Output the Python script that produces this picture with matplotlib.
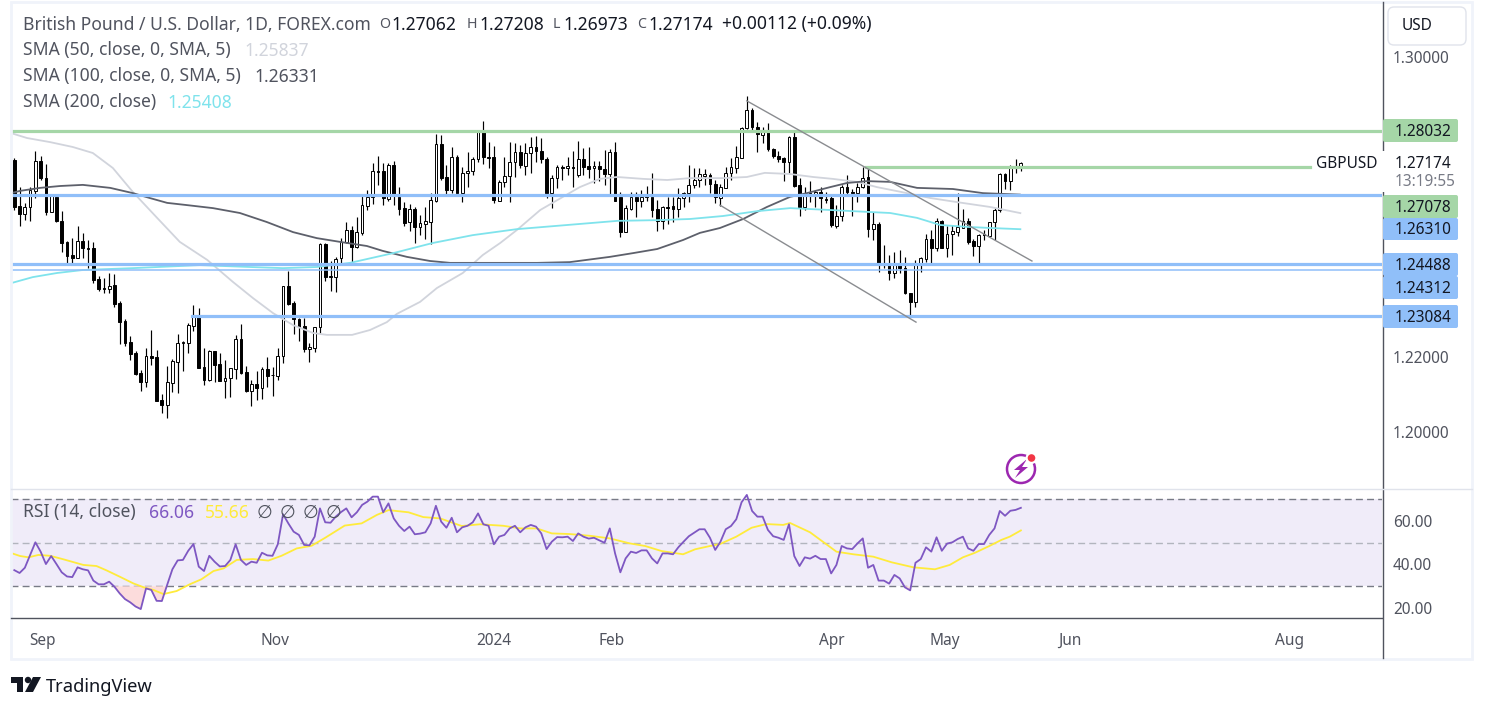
import matplotlib
matplotlib.use("Agg")
import matplotlib.pyplot as plt
import numpy as np
from matplotlib.patches import Circle, FancyBboxPatch, Polygon, Rectangle, Arc

plt.rcParams['font.family'] = ['Noto Sans', 'DejaVu Sans']

W, H = 1487, 712

# daily GBP/USD candles
opens = [
    1.2725, 1.2603, 1.2581, 1.2600, 1.2643, 1.2723, 1.2677, 1.2587, 1.2627, 1.2563,
    1.2507, 1.2472, 1.2464, 1.2509, 1.2491, 1.2491, 1.2408, 1.2384, 1.2381, 1.2392,
    1.2344, 1.2296, 1.2240, 1.2211, 1.2157, 1.2133, 1.2203, 1.2200, 1.2085, 1.2072,
    1.2131, 1.2187, 1.2237, 1.2237, 1.2283, 1.2307, 1.2173, 1.2139, 1.2216, 1.2181,
    1.2136, 1.2144, 1.2168, 1.2248, 1.2160, 1.2109, 1.2128, 1.2117, 1.2168, 1.2152,
    1.2149, 1.2203, 1.2389, 1.2344, 1.2301, 1.2283, 1.2221, 1.2224, 1.2280, 1.2501,
    1.2413, 1.2413, 1.2464, 1.2507, 1.2539, 1.2493, 1.2531, 1.2603, 1.2627, 1.2696,
    1.2696, 1.2621, 1.2712, 1.2627, 1.2597, 1.2560, 1.2595, 1.2547, 1.2555, 1.2560,
    1.2616, 1.2768, 1.2680, 1.2645, 1.2733, 1.2637, 1.2691, 1.2696, 1.2728, 1.2800,
    1.2733, 1.2733, 1.2616, 1.2667, 1.2683, 1.2720, 1.2747, 1.2709, 1.2744, 1.2760,
    1.2749, 1.2728, 1.2637, 1.2677, 1.2707, 1.2704, 1.2707, 1.2685, 1.2728, 1.2709,
    1.2704, 1.2709, 1.2701, 1.2688, 1.2747, 1.2627, 1.2533, 1.2595, 1.2627, 1.2616,
    1.2629, 1.2627, 1.2595, 1.2563, 1.2600, 1.2603, 1.2595, 1.2624, 1.2637, 1.2659,
    1.2672, 1.2683, 1.2685, 1.2661, 1.2624, 1.2651, 1.2691, 1.2704, 1.2731, 1.2811,
    1.2859, 1.2813, 1.2792, 1.2800, 1.2755, 1.2736, 1.2731, 1.2720, 1.2787, 1.2659,
    1.2600, 1.2637, 1.2632, 1.2640, 1.2621, 1.2624, 1.2549, 1.2576, 1.2653, 1.2640,
    1.2637, 1.2653, 1.2680, 1.2541, 1.2555, 1.2448, 1.2445, 1.2424, 1.2451, 1.2437,
    1.2371, 1.2347, 1.2445, 1.2461, 1.2515, 1.2491, 1.2563, 1.2491, 1.2528, 1.2533,
    1.2544, 1.2563, 1.2509, 1.2496, 1.2528, 1.2523, 1.2560, 1.2592, 1.2688, 1.2669,
    1.2707, 1.27062,
]
highs = [
    1.2731, 1.2653, 1.2611, 1.2653, 1.2749, 1.2736, 1.2715, 1.2632, 1.2632, 1.2589,
    1.2509, 1.2517, 1.2549, 1.2531, 1.2512, 1.2507, 1.2416, 1.2411, 1.2424, 1.2421,
    1.2349, 1.2301, 1.2256, 1.2216, 1.2165, 1.2224, 1.2272, 1.2219, 1.2101, 1.2176,
    1.2195, 1.2261, 1.2243, 1.2291, 1.2339, 1.2331, 1.2224, 1.2219, 1.2216, 1.2211,
    1.2192, 1.2171, 1.2259, 1.2288, 1.2176, 1.2139, 1.2163, 1.2173, 1.2200, 1.2173,
    1.2224, 1.2389, 1.2429, 1.2349, 1.2304, 1.2304, 1.2237, 1.2280, 1.2504, 1.2504,
    1.2456, 1.2467, 1.2517, 1.2560, 1.2549, 1.2573, 1.2632, 1.2645, 1.2717, 1.2736,
    1.2717, 1.2717, 1.2723, 1.2653, 1.2613, 1.2608, 1.2600, 1.2579, 1.2600, 1.2637,
    1.2795, 1.2792, 1.2712, 1.2760, 1.2739, 1.2707, 1.2747, 1.2733, 1.2800, 1.2829,
    1.2773, 1.2763, 1.2672, 1.2733, 1.2773, 1.2771, 1.2765, 1.2771, 1.2787, 1.2789,
    1.2784, 1.2733, 1.2685, 1.2712, 1.2712, 1.2733, 1.2749, 1.2776, 1.2757, 1.2760,
    1.2723, 1.2723, 1.2752, 1.2755, 1.2773, 1.2640, 1.2605, 1.2640, 1.2640, 1.2645,
    1.2656, 1.2691, 1.2619, 1.2603, 1.2627, 1.2627, 1.2651, 1.2640, 1.2712, 1.2704,
    1.2704, 1.2701, 1.2691, 1.2672, 1.2661, 1.2707, 1.2731, 1.2763, 1.2813, 1.2896,
    1.2864, 1.2827, 1.2813, 1.2824, 1.2757, 1.2749, 1.2733, 1.2789, 1.2805, 1.2677,
    1.2653, 1.2669, 1.2645, 1.2653, 1.2640, 1.2632, 1.2605, 1.2659, 1.2685, 1.2648,
    1.2664, 1.2707, 1.2704, 1.2587, 1.2560, 1.2499, 1.2472, 1.2480, 1.2485, 1.2467,
    1.2371, 1.2459, 1.2467, 1.2528, 1.2539, 1.2571, 1.2565, 1.2549, 1.2552, 1.2637,
    1.2595, 1.2571, 1.2515, 1.2528, 1.2539, 1.2560, 1.2597, 1.2691, 1.2691, 1.2712,
    1.2728, 1.27208,
]
lows = [
    1.2592, 1.2549, 1.2565, 1.2563, 1.2624, 1.2672, 1.2579, 1.2587, 1.2560, 1.2480,
    1.2451, 1.2451, 1.2464, 1.2464, 1.2437, 1.2397, 1.2376, 1.2371, 1.2371, 1.2333,
    1.2235, 1.2229, 1.2192, 1.2152, 1.2109, 1.2120, 1.2179, 1.2083, 1.2051, 1.2037,
    1.2107, 1.2104, 1.2163, 1.2211, 1.2269, 1.2171, 1.2125, 1.2136, 1.2133, 1.2136,
    1.2091, 1.2093, 1.2141, 1.2155, 1.2107, 1.2069, 1.2085, 1.2088, 1.2120, 1.2096,
    1.2139, 1.2184, 1.2339, 1.2261, 1.2243, 1.2213, 1.2187, 1.2213, 1.2264, 1.2403,
    1.2376, 1.2373, 1.2451, 1.2504, 1.2451, 1.2491, 1.2525, 1.2592, 1.2608, 1.2659,
    1.2605, 1.2616, 1.2605, 1.2579, 1.2549, 1.2536, 1.2504, 1.2525, 1.2515, 1.2501,
    1.2613, 1.2672, 1.2635, 1.2637, 1.2635, 1.2613, 1.2653, 1.2685, 1.2720, 1.2715,
    1.2704, 1.2611, 1.2616, 1.2653, 1.2613, 1.2680, 1.2704, 1.2685, 1.2691, 1.2720,
    1.2717, 1.2624, 1.2597, 1.2651, 1.2672, 1.2685, 1.2653, 1.2680, 1.2685, 1.2677,
    1.2664, 1.2669, 1.2659, 1.2635, 1.2616, 1.2520, 1.2533, 1.2592, 1.2573, 1.2600,
    1.2616, 1.2573, 1.2536, 1.2541, 1.2555, 1.2560, 1.2573, 1.2600, 1.2613, 1.2651,
    1.2653, 1.2659, 1.2637, 1.2611, 1.2603, 1.2651, 1.2672, 1.2691, 1.2731, 1.2808,
    1.2800, 1.2747, 1.2771, 1.2749, 1.2731, 1.2720, 1.2669, 1.2691, 1.2653, 1.2576,
    1.2592, 1.2613, 1.2600, 1.2587, 1.2611, 1.2547, 1.2544, 1.2563, 1.2632, 1.2576,
    1.2613, 1.2651, 1.2520, 1.2512, 1.2427, 1.2437, 1.2405, 1.2411, 1.2424, 1.2368,
    1.2307, 1.2333, 1.2427, 1.2453, 1.2451, 1.2483, 1.2491, 1.2467, 1.2472, 1.2523,
    1.2544, 1.2501, 1.2469, 1.2451, 1.2512, 1.2520, 1.2512, 1.2587, 1.2648, 1.2645,
    1.2691, 1.26973,
]
closes = [
    1.2600, 1.2581, 1.2600, 1.2645, 1.2723, 1.2677, 1.2587, 1.2632, 1.2563, 1.2504,
    1.2469, 1.2464, 1.2509, 1.2491, 1.2488, 1.2405, 1.2381, 1.2381, 1.2389, 1.2341,
    1.2293, 1.2237, 1.2208, 1.2155, 1.2133, 1.2203, 1.2197, 1.2083, 1.2072, 1.2133,
    1.2189, 1.2237, 1.2240, 1.2285, 1.2307, 1.2171, 1.2139, 1.2216, 1.2179, 1.2136,
    1.2144, 1.2171, 1.2248, 1.2157, 1.2109, 1.2128, 1.2117, 1.2168, 1.2149, 1.2152,
    1.2203, 1.2389, 1.2341, 1.2301, 1.2280, 1.2221, 1.2227, 1.2280, 1.2501, 1.2413,
    1.2416, 1.2461, 1.2507, 1.2539, 1.2493, 1.2533, 1.2605, 1.2627, 1.2696, 1.2693,
    1.2624, 1.2712, 1.2632, 1.2595, 1.2557, 1.2595, 1.2547, 1.2557, 1.2563, 1.2619,
    1.2768, 1.2677, 1.2645, 1.2733, 1.2637, 1.2691, 1.2696, 1.2728, 1.2800, 1.2733,
    1.2731, 1.2619, 1.2667, 1.2683, 1.2720, 1.2747, 1.2712, 1.2744, 1.2760, 1.2749,
    1.2728, 1.2637, 1.2677, 1.2707, 1.2704, 1.2709, 1.2704, 1.2728, 1.2707, 1.2701,
    1.2709, 1.2701, 1.2688, 1.2747, 1.2616, 1.2533, 1.2597, 1.2627, 1.2616, 1.2627,
    1.2627, 1.2592, 1.2563, 1.2600, 1.2597, 1.2595, 1.2624, 1.2637, 1.2659, 1.2672,
    1.2688, 1.2688, 1.2661, 1.2627, 1.2653, 1.2691, 1.2707, 1.2733, 1.2811, 1.2859,
    1.2813, 1.2795, 1.2800, 1.2755, 1.2736, 1.2728, 1.2720, 1.2787, 1.2656, 1.2600,
    1.2637, 1.2635, 1.2640, 1.2624, 1.2619, 1.2552, 1.2576, 1.2653, 1.2640, 1.2637,
    1.2653, 1.2677, 1.2541, 1.2555, 1.2451, 1.2445, 1.2424, 1.2451, 1.2437, 1.2371,
    1.2347, 1.2448, 1.2464, 1.2515, 1.2491, 1.2563, 1.2491, 1.2528, 1.2536, 1.2547,
    1.2563, 1.2507, 1.2496, 1.2525, 1.2525, 1.2560, 1.2592, 1.2688, 1.2669, 1.2704,
    1.2704, 1.27174,
]

# moving averages as (bar index, price) readings
sma50_idx = [-0.6, 2.4, 6.8, 11.1, 14.9, 18.7, 22.5, 27.1, 31.4, 36.6, 41.5, 45.3, 49.1, 52.9, 56.7, 59.3,
             64.1, 67.5, 70.7, 72.6, 77, 80.2, 85.1, 88.9, 92.2, 95.4, 99.8, 104.1, 107.3, 111.1, 114.4,
             119.3, 123.9, 128.2, 134.5, 139, 142.4, 147.2, 151.6, 155.3, 159.9, 163.7, 169.4, 173.8,
             178.9, 185.2, 190.9]
sma50 = [1.2797, 1.2784, 1.2773, 1.2760, 1.2744, 1.2704, 1.2640, 1.2571, 1.2507, 1.2459, 1.2400, 1.2357,
         1.2317, 1.2285, 1.2264, 1.2259, 1.2259, 1.2272, 1.2293, 1.2315, 1.2347, 1.2384, 1.2424, 1.2472,
         1.2504, 1.2539, 1.2592, 1.2627, 1.2653, 1.2675, 1.2680, 1.2675, 1.2672, 1.2677, 1.2677, 1.2680,
         1.2691, 1.2688, 1.2680, 1.2675, 1.2667, 1.2653, 1.2637, 1.2624, 1.2613, 1.2600, 1.25837]
sma100_idx = [-0.6, 1.1, 4.9, 8.7, 13, 18.2, 22.5, 25.7, 29, 32.8, 37.7, 42.8, 47.9, 52.9, 57.4, 61.8, 66.9,
              69.9, 74.5, 78.9, 82.7, 90.8, 99.2, 105.4, 113, 117.4, 122, 126.9, 130.1, 133.9, 138.3, 142.8,
              147.2, 150.4, 154.8, 158, 161.8, 166.2, 171.3, 178.1, 183.8, 190.8]
sma100 = [1.2637, 1.2643, 1.2651, 1.2656, 1.2659, 1.2651, 1.2637, 1.2624, 1.2611, 1.2605, 1.2597, 1.2584,
          1.2560, 1.2533, 1.2517, 1.2507, 1.2496, 1.2483, 1.2467, 1.2456, 1.2451, 1.2451, 1.2451, 1.2453,
          1.2467, 1.2477, 1.2488, 1.2512, 1.2531, 1.2544, 1.2568, 1.2600, 1.2627, 1.2637, 1.2653, 1.2664,
          1.2669, 1.2667, 1.2651, 1.2648, 1.2637, 1.26331]
sma200_idx = [-0.6, 3.5, 8.1, 13, 22.5, 35.2, 44.7, 51, 57.4, 63.7, 71.9, 79.4, 87, 95.4, 104.9, 114.4, 122,
              128.2, 134.5, 141, 147.2, 154.8, 161.8, 166.2, 171.3, 175.7, 180.8, 185.2, 190.9]
sma200 = [1.2397, 1.2413, 1.2424, 1.2432, 1.2437, 1.2445, 1.2440, 1.2437, 1.2440, 1.2451, 1.2477, 1.2504,
          1.2525, 1.2541, 1.2552, 1.2563, 1.2565, 1.2568, 1.2576, 1.2589, 1.2597, 1.2592, 1.2587, 1.2584,
          1.2571, 1.2552, 1.2547, 1.2544, 1.25408]

# RSI, one value per bar
rsi = [
    37.4, 36.1, 38.5, 44.4, 50.2, 45.9, 40.2, 43.9, 40.2, 36.4, 34.5, 34.2, 38.7, 37.8, 37.3, 32.6,
    30.9, 30.9, 32.1, 29.8, 26.7, 24.1, 22.6, 20.7, 19.5, 29.0, 28.3, 23.3, 23.2, 30.6, 37.8, 41.9,
    42.1, 46.3, 49.4, 39.0, 37.0, 44.0, 41.3, 39.1, 39.3, 42.1, 49.3, 42.1, 39.8, 41.3, 40.8, 45.4,
    44.2, 44.0, 49.3, 63.1, 58.9, 55.1, 53.6, 49.0, 48.8, 52.8, 65.8, 59.4, 59.2, 62.0, 64.1, 65.8,
    61.7, 64.0, 67.4, 68.9, 71.2, 71.2, 64.0, 68.1, 61.2, 57.8, 55.4, 57.4, 53.9, 54.2, 54.8, 58.9,
    67.0, 59.7, 56.9, 61.5, 54.8, 57.1, 57.8, 59.4, 63.5, 58.5, 57.8, 49.3, 52.8, 53.6, 56.6, 57.8,
    54.8, 57.1, 58.2, 57.4, 54.3, 47.1, 50.5, 52.6, 52.5, 52.8, 50.8, 54.3, 52.8, 51.9, 52.3, 51.1,
    50.0, 56.6, 45.1, 36.4, 42.8, 45.9, 45.3, 46.5, 46.5, 42.8, 40.5, 45.1, 45.1, 44.7, 47.9, 50.5,
    53.0, 54.6, 56.2, 56.2, 52.3, 46.7, 50.5, 56.2, 57.7, 60.8, 68.6, 72.0, 64.6, 62.0, 62.0, 55.9,
    53.0, 52.3, 51.3, 58.5, 43.9, 39.3, 43.3, 42.7, 44.0, 42.5, 42.5, 35.9, 39.8, 48.5, 47.4, 47.1,
    49.7, 52.0, 38.5, 39.8, 32.6, 32.6, 31.2, 35.2, 33.6, 29.5, 28.1, 40.8, 42.5, 47.9, 45.9, 52.5,
    46.3, 49.6, 50.2, 51.7, 52.8, 47.4, 46.3, 49.4, 49.4, 53.6, 56.6, 64.6, 62.4, 64.7, 65.1, 66.06,
]
rsi_ma_idx = [-0.4, 1.1, 2.7, 4.6, 6.8, 9.3, 13.1, 15.6, 17.5, 20, 22.6, 24.8, 26.4, 28.3, 30.8, 33.3, 35.5,
              37.8, 39.7, 42.2, 45.3, 48.2, 50.7, 53.6, 56.4, 59, 62.7, 65.9, 68.8, 71, 74.8, 77.6, 80.8,
              84.9, 88.4, 92.8, 96, 99.1, 102, 105.4, 109.2, 113, 116.8, 119.7, 122.8, 126.9, 129.2, 132,
              133.9, 137, 139.9, 142.7, 145.9, 147.2, 151, 156, 159.2, 163, 166.5, 170.6, 174.7, 177.5,
              180, 182.3, 185.1, 187.3, 188.9, 191]
rsi_ma = [45.1, 43.9, 43.3, 44.4, 44.0, 42.4, 39.8, 39.3, 37.3, 34.4, 31.3, 29.3, 28.3, 26.4, 27.8, 30.9, 33.2,
          37.0, 38.2, 42.1, 42.5, 41.8, 44.0, 47.4, 48.6, 52.3, 57.9, 58.9, 62.8, 65.0, 64.0, 61.8, 61.2,
          57.7, 58.5, 57.8, 56.6, 56.6, 54.3, 54.0, 53.2, 52.0, 49.7, 48.5, 46.2, 44.7, 47.0, 48.5,
          49.4, 52.8, 56.9, 58.6, 58.2, 59.1, 54.8, 45.9, 44.7, 43.6, 41.0, 38.7, 37.8, 39.8,
          43.3, 45.4, 48.6, 51.3, 52.8, 55.66]

# tick positions in bars
month_idx = [5.3, 49.5, 91, 113.4, 155.2, 176.6, 200.2, 242]
month_labels = ["Sep", "Nov", "2024", "Feb", "Apr", "May", "Jun", "Aug"]
price_ticks = [1.30, 1.22, 1.20]
rsi_ticks = [60, 40, 20]

# drawn horizontal levels and trend lines
full_levels = [1.28032, 1.26310, 1.24488, 1.24312]
level_colors = ["#a5d6a7", "#90bff9", "#90bff9", "#90bff9"]
level_widths = [2.3, 2.3, 2.3, 1.1]
lower_level = 1.23084
short_level = 1.27078
trend_down_idx = [139.0, 193.1]
trend_down = [1.2883, 1.2456]
trend_low_idx = [133.9, 171.1]
trend_low = [1.2605, 1.2293]

# pixel layout of the screenshot
x0 = 14.3
bar_px = 5.27
left_px, right_px = 11, 1382
top_px, sep_px, bottom_px = 4, 488.5, 617.5
GRAY = "#50535e"
DARK = "#131722"
FONT = 12.6
SCALE_FONT = 11.1


def px_axes(fig, l, t, r, b, **kw):
    return fig.add_axes([l / W, 1 - b / H, (r - l) / W, (b - t) / H], **kw)


def px_to_idx(x):
    return (x - x0) / bar_px


def px_to_price(y):
    return 1.30 - (y - 57) / 3750


def px_to_rsi(y):
    return 60 - (y - 521) / 2.175


def label(ax, x, y, text, color=GRAY, size=FONT, **kw):
    # centre alignment sits a little high for this font
    return ax.text(x, y + 1.5, text, color=color, fontsize=size, va="center", **kw)


def tag(ax, y0, y1, text, color):
    ax.add_patch(FancyBboxPatch((1383, y0), 75, y1 - y0, boxstyle="round,pad=0,rounding_size=2",
                                fc=color, ec="none", zorder=3))
    label(ax, 1395, (y0 + y1) / 2, text, DARK, SCALE_FONT, zorder=4)


fig = plt.figure(figsize=(W / 100, H / 100), dpi=100, facecolor="white")

# price panel
ax = px_axes(fig, left_px, top_px, right_px, sep_px)
ax.set_xlim(px_to_idx(left_px), px_to_idx(right_px))
ax.set_ylim(px_to_price(sep_px), px_to_price(top_px))

x = np.arange(len(opens))
o, h, l, c = map(np.array, (opens, highs, lows, closes))
up = c >= o
ax.vlines(x, l, h, color="black", lw=0.85, zorder=2)
ax.bar(x, np.abs(c - o), bottom=np.minimum(o, c), width=0.52, color=np.where(up, "white", "black"),
       edgecolor="black", linewidth=0.7, zorder=3)

ax.plot(sma50_idx, sma50, color="#d1d4dc", lw=1.3, zorder=4)
ax.plot(sma100_idx, sma100, color="#5d606b", lw=1.3, zorder=4)
ax.plot(sma200_idx, sma200, color="#7fe3ec", lw=1.3, zorder=4)

for level, col, lw in zip(full_levels, level_colors, level_widths):
    ax.axhline(level, color=col, lw=lw, zorder=5)
ax.plot([px_to_idx(192), px_to_idx(right_px)], [lower_level, lower_level], color="#90bff9", lw=2.3, zorder=5)
ax.plot([px_to_idx(866), px_to_idx(1310)], [short_level, short_level], color="#a5d6a7", lw=2.3, zorder=5)
ax.plot(trend_down_idx, trend_down, color="#8a8c90", lw=1.0, zorder=5)
ax.plot(trend_low_idx, trend_low, color="#8a8c90", lw=1.0, zorder=5)

ax.yaxis.tick_right()
ax.set_yticks(price_ticks, [f"{t:.5f}" for t in price_ticks])
ax.tick_params(axis="y", length=0, pad=8, labelsize=SCALE_FONT, labelcolor=GRAY)
ax.set_xticks([])
for side in ax.spines.values():
    side.set_visible(False)

# RSI panel
rs = px_axes(fig, left_px, sep_px, right_px, bottom_px)
rs.set_xlim(px_to_idx(left_px), px_to_idx(right_px))
rs.set_ylim(px_to_rsi(bottom_px), px_to_rsi(sep_px))
rs.axhspan(30, 70, color="#f0ecf9", lw=0, zorder=0)
rs.axhline(70, color="#787b86", lw=1, dashes=(5, 3), zorder=1)
rs.axhline(50, color="#b2b5be", lw=1, dashes=(5, 3), zorder=1)
rs.axhline(30, color="#787b86", lw=1, dashes=(5, 3), zorder=1)
rsi_x = np.arange(len(rsi))
rs.fill_between(rsi_x, rsi, 30, where=np.array(rsi) < 30, interpolate=True, color="#fcdcdc", lw=0, zorder=1)
rs.plot(rsi_ma_idx, rsi_ma, color="#ffeb3b", lw=1.3, zorder=2)
rs.plot(rsi_x, rsi, color="#7e57c2", lw=1.3, zorder=3)
rs.yaxis.tick_right()
rs.set_yticks(rsi_ticks, [f"{t:.2f}" for t in rsi_ticks])
rs.tick_params(axis="y", length=0, pad=8, labelsize=SCALE_FONT, labelcolor=GRAY)
rs.set_xticks(month_idx, month_labels)
rs.tick_params(axis="x", length=0, pad=11, labelsize=SCALE_FONT, labelcolor=GRAY)
for lab in rs.get_xticklabels():
    if lab.get_text() == "2024":
        lab.set_fontweight("bold")
for side in rs.spines.values():
    side.set_visible(False)

# everything else sits on a pixel overlay
ov = fig.add_axes([0, 0, 1, 1], zorder=10)
ov.set_xlim(0, W)
ov.set_ylim(H, 0)
ov.axis("off")

ov.add_patch(Rectangle((10.5, 1.5), 1461.5, 657, fc="none", ec="#f0f3fa", lw=2))
ov.plot([11, 1472], [488.5, 488.5], color="#e0e3eb", lw=1)
ov.plot([11, 1382], [617.5, 617.5], color=GRAY, lw=1)
ov.plot([1382.5, 1382.5], [2, 658], color=GRAY, lw=1, zorder=1)

# header and legend
label(ov, 23, 23, "British Pound / U.S. Dollar, 1D, FOREX.com")
for lx, letter, vx, val in [(379.5, "O", 391, "1.27062"), (467, "H", 479, "1.27208"),
                            (553, "L", 563, "1.26973"), (637, "C", 648, "1.27174")]:
    label(ov, lx, 23, letter, GRAY, 10.2)
    label(ov, vx, 23, val, DARK)
label(ov, 722, 23, "+0.00112 (+0.09%)", DARK)
label(ov, 23, 49, "SMA (50, close, 0, SMA, 5)")
label(ov, 244, 49, "1.25837", "#d1d4dc")
label(ov, 23, 75, "SMA (100, close, 0, SMA, 5)")
label(ov, 254, 75, "1.26331")
label(ov, 23, 101, "SMA (200, close)")
label(ov, 167, 101, "1.25408", "#7fe3ec")
label(ov, 23, 511, "RSI (14, close)")
label(ov, 149, 511, "66.06", "#7e57c2")
label(ov, 205, 511, "55.66", "#ffeb3b")
for zx in [264, 287, 310, 333]:
    label(ov, zx, 511, "∅", GRAY, 13, ha="center", family="DejaVu Sans")

# right scale tags
ov.add_patch(Rectangle((1378, 151), 85, 41, fc="white", ec="none", zorder=2))
label(ov, 1316, 162, "GBPUSD", DARK, SCALE_FONT)
label(ov, 1395, 162, "1.27174", DARK, SCALE_FONT)
label(ov, 1395, 181, "13:19:55", "#787b86", SCALE_FONT)
tag(ov, 119, 142, "1.28032", "#a5d6a7")
tag(ov, 195, 218, "1.27078", "#a5d6a7")
tag(ov, 218, 240, "1.26310", "#90bff9")
tag(ov, 253, 276, "1.24488", "#90bff9")
tag(ov, 276, 299, "1.24312", "#90bff9")
tag(ov, 305, 328, "1.23084", "#90bff9")

ov.add_patch(FancyBboxPatch((1388, 7), 78, 38, boxstyle="round,pad=0,rounding_size=6", fc="white",
                            ec="#e0e3eb", lw=1))
label(ov, 1402, 25, "USD", DARK, SCALE_FONT)

# lightning badge
ov.add_patch(Arc((1021, 469), 28, 28, color="#9c27b0", lw=1.8))
ov.add_patch(Polygon([(1027, 459), (1014, 470), (1020, 470), (1015, 478), (1028, 467), (1022, 467)],
                     fc="#9c27b0", ec="none"))
ov.add_patch(Circle((1031.5, 458), 6, fc="white", ec="none"))
ov.add_patch(Circle((1031.5, 458), 3.8, fc="#f23645", ec="none"))

# TradingView mark
ov.add_patch(Polygon([(11, 677), (23, 677), (23, 692), (17, 692), (17, 683), (11, 683)], fc=DARK, ec="none"))
ov.add_patch(Circle((28, 680), 3.2, fc=DARK, ec="none"))
ov.add_patch(Polygon([(33, 677), (41, 677), (33, 692), (25, 692)], fc=DARK, ec="none"))
label(ov, 46, 685, "TradingView", DARK, 13.2)

fig.savefig("out.png", dpi=100)
